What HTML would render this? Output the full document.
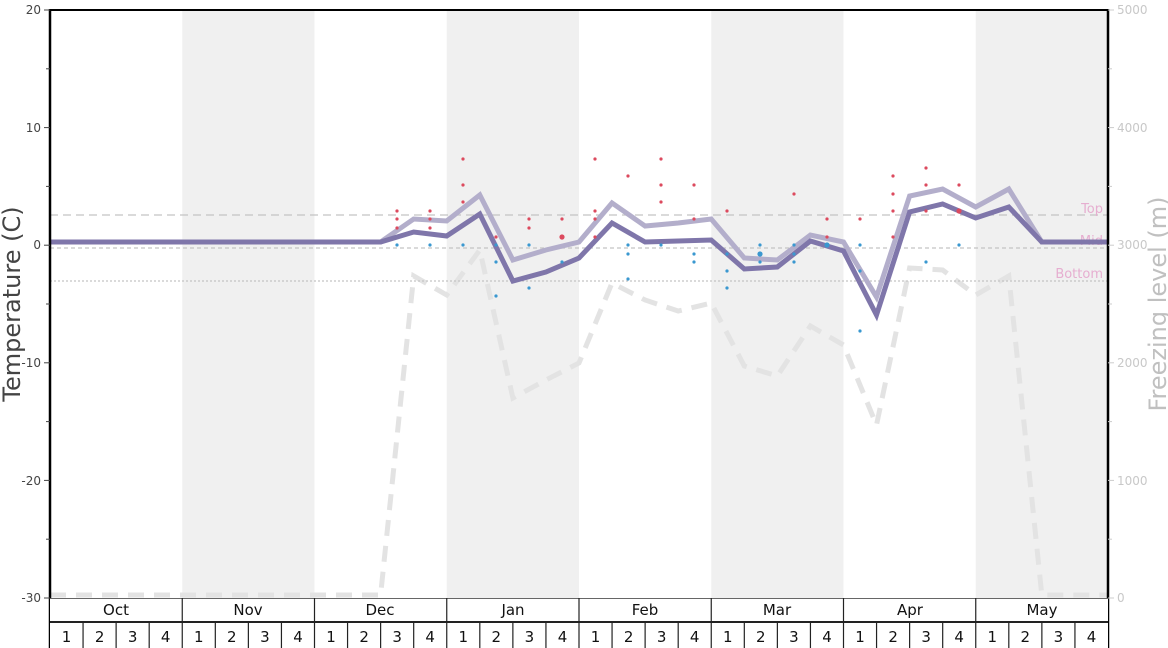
<!DOCTYPE html>
<html><head><meta charset="utf-8"><style>
html,body{margin:0;padding:0;background:#fff;}
svg{display:block;font-family:"DejaVu Sans","Liberation Sans",sans-serif;}
</style></head><body>
<svg width="1168" height="648" viewBox="0 0 1168 648" xmlns="http://www.w3.org/2000/svg">
<!-- shaded bands -->
<rect x="182.25" y="10" width="132.25" height="588" fill="#f0f0f0"/>
<rect x="446.75" y="10" width="132.25" height="588" fill="#f0f0f0"/>
<rect x="711.25" y="10" width="132.25" height="588" fill="#f0f0f0"/>
<rect x="975.75" y="10" width="132.25" height="588" fill="#f0f0f0"/>
<!-- freezing level -->
<polyline fill="none" stroke="#e3e3e3" stroke-width="5" stroke-dasharray="16,10" points="50,595 380.6,595 413.7,276 446.7,295 479.8,250 512.9,398 545.9,380 579,363 612,283 645.1,300 678.2,311 711.2,303 744.3,366 777.3,376 810.4,326 843.5,345 876.5,425 909.6,268 942.6,270 975.7,295 1008.8,276 1041.8,595 1108,595"/>
<!-- reference lines -->
<line x1="50" x2="1108" y1="215" y2="215" stroke="#c4c4c4" stroke-width="1.3" stroke-dasharray="8,5"/>
<line x1="50" x2="1108" y1="248" y2="248" stroke="#c4c4c4" stroke-width="1.3" stroke-dasharray="4,3"/>
<line x1="50" x2="1108" y1="281" y2="281" stroke="#c4c4c4" stroke-width="1.3" stroke-dasharray="2,2"/>
<g fill="#e6aed0" font-size="13" text-anchor="end">
<text x="1103" y="213">Top</text>
<text x="1103" y="245">Mid</text>
<text x="1103" y="278">Bottom</text>
</g>
<!-- lines -->
<polyline fill="none" stroke="#b3aecb" stroke-width="5" stroke-linejoin="miter" points="50,242 380.6,242 413.7,219 446.7,221 479.8,195 512.9,260 545.9,250 579,242 612,203 645.1,226 678.2,223 711.2,219 744.3,258 777.3,260 810.4,235 843.5,242 876.5,297 909.6,196 942.6,189 975.7,207 1008.8,189 1041.8,242 1108,242"/>
<polyline fill="none" stroke="#7f76aa" stroke-width="5" stroke-linejoin="miter" points="50,242 380.6,242 413.7,232 446.7,236 479.8,214 512.9,281 545.9,272 579,258 612,223 645.1,242 678.2,241 711.2,240 744.3,269 777.3,267 810.4,241 843.5,251 876.5,315 909.6,212 942.6,204 975.7,218 1008.8,207 1041.8,242 1108,242"/>
<!-- dots red -->
<g fill="#dc4a5e">
<circle cx="397" cy="211" r="1.6"/><circle cx="397" cy="219" r="1.6"/><circle cx="397" cy="228" r="1.6"/>
<circle cx="430" cy="211" r="1.6"/><circle cx="430" cy="219" r="1.6"/><circle cx="430" cy="228" r="1.6"/>
<circle cx="463" cy="159" r="1.6"/><circle cx="463" cy="185" r="1.6"/><circle cx="463" cy="202" r="1.6"/>
<circle cx="496" cy="237" r="1.6"/>
<circle cx="529" cy="219" r="1.6"/><circle cx="529" cy="228" r="1.6"/>
<circle cx="562" cy="219" r="1.6"/><circle cx="562" cy="237" r="2.6"/>
<circle cx="595" cy="159" r="1.6"/><circle cx="595" cy="211" r="1.6"/><circle cx="595" cy="219" r="1.6"/><circle cx="595" cy="237" r="1.6"/>
<circle cx="628" cy="176" r="1.6"/>
<circle cx="661" cy="159" r="1.6"/><circle cx="661" cy="185" r="1.6"/><circle cx="661" cy="202" r="1.6"/>
<circle cx="694" cy="185" r="1.6"/><circle cx="694" cy="219" r="1.6"/>
<circle cx="727" cy="211" r="1.6"/>
<circle cx="794" cy="194" r="1.6"/>
<circle cx="827" cy="219" r="1.6"/><circle cx="827" cy="237" r="1.6"/>
<circle cx="860" cy="219" r="1.6"/>
<circle cx="893" cy="176" r="1.6"/><circle cx="893" cy="194" r="1.6"/><circle cx="893" cy="211" r="1.6"/><circle cx="893" cy="237" r="1.6"/>
<circle cx="926" cy="168" r="1.6"/><circle cx="926" cy="185" r="1.6"/><circle cx="926" cy="211" r="1.6"/>
<circle cx="959" cy="185" r="1.6"/><circle cx="959" cy="211" r="2.6"/>
</g>
<!-- dots blue -->
<g fill="#3a98d0">
<circle cx="397" cy="245" r="1.6"/><circle cx="430" cy="245" r="1.6"/><circle cx="463" cy="245" r="1.6"/>
<circle cx="496" cy="245" r="1.6"/><circle cx="496" cy="262" r="1.6"/><circle cx="496" cy="296" r="1.6"/>
<circle cx="529" cy="245" r="1.6"/><circle cx="529" cy="288" r="1.6"/>
<circle cx="562" cy="262" r="1.6"/>
<circle cx="628" cy="245" r="1.6"/><circle cx="628" cy="254" r="1.6"/><circle cx="628" cy="279" r="1.6"/>
<circle cx="661" cy="245" r="1.6"/>
<circle cx="694" cy="254" r="1.6"/><circle cx="694" cy="262" r="1.6"/>
<circle cx="727" cy="254" r="1.6"/><circle cx="727" cy="271" r="1.6"/><circle cx="727" cy="288" r="1.6"/>
<circle cx="760" cy="245" r="1.6"/><circle cx="760" cy="254" r="2.6"/><circle cx="760" cy="262" r="1.6"/>
<circle cx="794" cy="245" r="1.6"/><circle cx="794" cy="254" r="1.6"/><circle cx="794" cy="262" r="1.6"/>
<circle cx="827" cy="245" r="2.6"/>
<circle cx="860" cy="245" r="1.6"/><circle cx="860" cy="271" r="1.6"/><circle cx="860" cy="331" r="1.6"/>
<circle cx="926" cy="262" r="1.6"/>
<circle cx="959" cy="245" r="1.6"/>
</g>
<!-- axes -->
<line x1="50" y1="10" x2="1108" y2="10" stroke="#000" stroke-width="2"/>
<line x1="50" y1="9" x2="50" y2="648" stroke="#000" stroke-width="2.5"/>
<line x1="1108" y1="9" x2="1108" y2="648" stroke="#000" stroke-width="2.5"/>
<g stroke="#444" stroke-width="1">
<line x1="44" x2="50" y1="10" y2="10"/><line x1="44" x2="50" y1="127.6" y2="127.6"/><line x1="44" x2="50" y1="245.2" y2="245.2"/><line x1="44" x2="50" y1="362.8" y2="362.8"/><line x1="44" x2="50" y1="480.4" y2="480.4"/><line x1="44" x2="50" y1="598" y2="598"/>
<line x1="46" x2="50" y1="68.8" y2="68.8"/><line x1="46" x2="50" y1="186.4" y2="186.4"/><line x1="46" x2="50" y1="304" y2="304"/><line x1="46" x2="50" y1="421.6" y2="421.6"/><line x1="46" x2="50" y1="539.2" y2="539.2"/>
</g>
<g fill="#444" font-size="12" text-anchor="end">
<text x="41" y="14">20</text><text x="41" y="132">10</text><text x="41" y="249">0</text><text x="41" y="367">-10</text><text x="41" y="485">-20</text><text x="41" y="602">-30</text>
</g>
<g stroke="#ccc" stroke-width="1">
<line x1="1108" x2="1114" y1="10" y2="10"/><line x1="1108" x2="1114" y1="127.6" y2="127.6"/><line x1="1108" x2="1114" y1="245.2" y2="245.2"/><line x1="1108" x2="1114" y1="362.8" y2="362.8"/><line x1="1108" x2="1114" y1="480.4" y2="480.4"/><line x1="1108" x2="1114" y1="598" y2="598"/>
<line x1="1108" x2="1112" y1="68.8" y2="68.8"/><line x1="1108" x2="1112" y1="186.4" y2="186.4"/><line x1="1108" x2="1112" y1="304" y2="304"/><line x1="1108" x2="1112" y1="421.6" y2="421.6"/><line x1="1108" x2="1112" y1="539.2" y2="539.2"/>
</g>
<g fill="#c8c8c8" font-size="12">
<text x="1117" y="14">5000</text><text x="1117" y="132">4000</text><text x="1117" y="249">3000</text><text x="1117" y="367">2000</text><text x="1117" y="485">1000</text><text x="1117" y="602">0</text>
</g>
<text transform="translate(20,304) rotate(-90)" text-anchor="middle" font-size="24" fill="#444">Temperature (C)</text>
<text transform="translate(1166,304) rotate(-90)" text-anchor="middle" font-size="24" fill="#c0c0c0">Freezing level (m)</text>
<!-- table -->
<rect x="50" y="598" width="1058" height="50" fill="#fff"/>
<line x1="50" x2="1108" y1="598.5" y2="598.5" stroke="#666" stroke-width="1"/>
<line x1="50" x2="1108" y1="622" y2="622" stroke="#222" stroke-width="2"/>
<g stroke="#222" stroke-width="1.2">
<line x1="182.25" x2="182.25" y1="598" y2="648"/><line x1="314.5" x2="314.5" y1="598" y2="648"/><line x1="446.75" x2="446.75" y1="598" y2="648"/><line x1="579" x2="579" y1="598" y2="648"/><line x1="711.25" x2="711.25" y1="598" y2="648"/><line x1="843.5" x2="843.5" y1="598" y2="648"/><line x1="975.75" x2="975.75" y1="598" y2="648"/>
<line x1="83.06" x2="83.06" y1="622" y2="648"/><line x1="116.12" x2="116.12" y1="622" y2="648"/><line x1="149.19" x2="149.19" y1="622" y2="648"/>
<line x1="215.31" x2="215.31" y1="622" y2="648"/><line x1="248.37" x2="248.37" y1="622" y2="648"/><line x1="281.44" x2="281.44" y1="622" y2="648"/>
<line x1="347.56" x2="347.56" y1="622" y2="648"/><line x1="380.62" x2="380.62" y1="622" y2="648"/><line x1="413.69" x2="413.69" y1="622" y2="648"/>
<line x1="479.81" x2="479.81" y1="622" y2="648"/><line x1="512.87" x2="512.87" y1="622" y2="648"/><line x1="545.94" x2="545.94" y1="622" y2="648"/>
<line x1="612.06" x2="612.06" y1="622" y2="648"/><line x1="645.12" x2="645.12" y1="622" y2="648"/><line x1="678.19" x2="678.19" y1="622" y2="648"/>
<line x1="744.31" x2="744.31" y1="622" y2="648"/><line x1="777.37" x2="777.37" y1="622" y2="648"/><line x1="810.44" x2="810.44" y1="622" y2="648"/>
<line x1="876.56" x2="876.56" y1="622" y2="648"/><line x1="909.62" x2="909.62" y1="622" y2="648"/><line x1="942.69" x2="942.69" y1="622" y2="648"/>
<line x1="1008.81" x2="1008.81" y1="622" y2="648"/><line x1="1041.87" x2="1041.87" y1="622" y2="648"/><line x1="1074.94" x2="1074.94" y1="622" y2="648"/>
</g>
<g fill="#111" font-size="15" text-anchor="middle">
<text x="116" y="615">Oct</text><text x="248" y="615">Nov</text><text x="380" y="615">Dec</text><text x="513" y="615">Jan</text><text x="645" y="615">Feb</text><text x="777" y="615">Mar</text><text x="910" y="615">Apr</text><text x="1042" y="615">May</text>
</g>
<g fill="#111" font-size="15" text-anchor="middle">
<text x="66.5" y="642">1</text><text x="99.6" y="642">2</text><text x="132.7" y="642">3</text><text x="165.7" y="642">4</text>
<text x="198.8" y="642">1</text><text x="231.8" y="642">2</text><text x="264.9" y="642">3</text><text x="298" y="642">4</text>
<text x="331" y="642">1</text><text x="364.1" y="642">2</text><text x="397.2" y="642">3</text><text x="430.2" y="642">4</text>
<text x="463.3" y="642">1</text><text x="496.3" y="642">2</text><text x="529.4" y="642">3</text><text x="562.5" y="642">4</text>
<text x="595.5" y="642">1</text><text x="628.6" y="642">2</text><text x="661.7" y="642">3</text><text x="694.7" y="642">4</text>
<text x="727.8" y="642">1</text><text x="760.8" y="642">2</text><text x="793.9" y="642">3</text><text x="827" y="642">4</text>
<text x="860" y="642">1</text><text x="893.1" y="642">2</text><text x="926.2" y="642">3</text><text x="959.2" y="642">4</text>
<text x="992.3" y="642">1</text><text x="1025.3" y="642">2</text><text x="1058.4" y="642">3</text><text x="1091.5" y="642">4</text>
</g>
</svg>
</body></html>
